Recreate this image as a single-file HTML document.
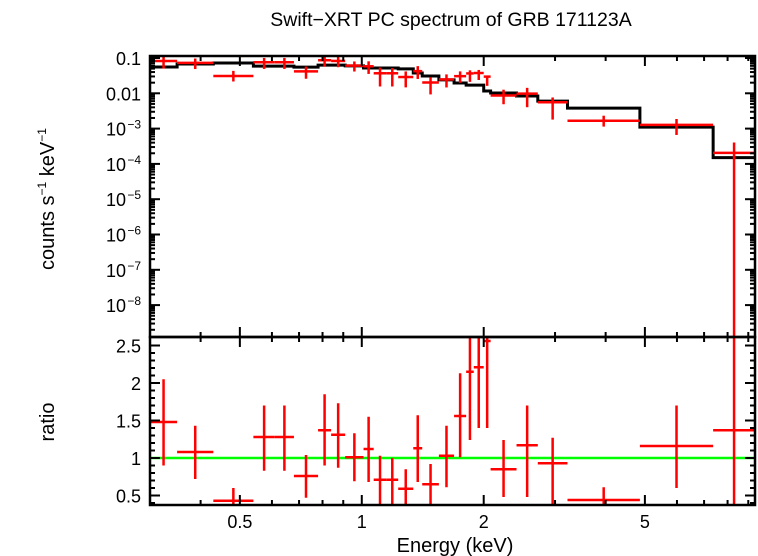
<!DOCTYPE html>
<html><head><meta charset="utf-8">
<style>
html,body{margin:0;padding:0;background:#fff;}
svg{display:block;font-family:"Liberation Sans",sans-serif;}
</style></head>
<body>
<svg id="chart" width="758" height="556" viewBox="0 0 758 556">
<text x="451" y="26" font-size="19.5" text-anchor="middle">Swift−XRT PC spectrum of GRB 171123A</text>
<text transform="translate(54,199) rotate(-90)" font-size="20" text-anchor="middle">counts s<tspan font-size="12" dy="-8">−1</tspan><tspan dy="8"> keV</tspan><tspan font-size="12" dy="-8">−1</tspan></text>
<text transform="translate(54,422) rotate(-90)" font-size="20" text-anchor="middle">ratio</text>
<text x="455" y="552" font-size="20" text-anchor="middle">Energy (keV)</text>
<g id="g"></g>
</svg>
<script>
const binEdges=[0.3,0.35,0.43,0.54,0.61,0.68,0.78,0.84,0.91,1.01,1.07,1.15,1.23,1.34,1.41,1.55,1.69,1.81,1.89,2.0,2.08,2.41,2.72,3.22,4.86,7.37,9.35];
const modelVals=[0.0556,0.0676,0.072,0.059,0.059,0.055,0.063,0.063,0.06,0.052,0.052,0.052,0.049,0.0375,0.031,0.024,0.0196,0.017,0.017,0.0116,0.0102,0.0084,0.006,0.0038,0.0011,0.00015];
const ratioVals=[1.48,1.08,0.43,1.28,1.28,0.76,1.37,1.31,1.01,1.12,0.71,0.71,0.59,1.13,0.65,1.03,1.56,2.15,2.21,2.56,0.85,1.17,0.93,0.44,1.16,1.37];
const ratioHi=[2.05,1.43,0.6,1.7,1.7,1.04,1.85,1.73,1.33,1.55,1.03,1.0,0.85,1.57,0.92,1.43,2.13,2.63,2.7,2.7,1.24,1.7,1.27,0.61,1.7,2.7];
const ratioLo=[0.9,0.72,0.3,0.83,0.83,0.47,0.9,0.87,0.69,0.68,0.3,0.3,0.3,0.68,0.3,0.61,1.01,1.24,1.4,1.4,0.48,0.48,0.3,0.3,0.6,0.0];
const xMajor=[0.5,1,2,5];
const xMinor=[0.3,0.4,0.6,0.7,0.8,0.9,3,4,6,7,8,9];
const topTickLabels=["0.1","0.01","10|−3","10|−4","10|−5","10|−6","10|−7","10|−8"];
const ratioTicks=[0.5,1,1.5,2,2.5];
const ratioTickLabels=["0.5","1","1.5","2","2.5"];

const L=150,R=755,T=56,M=337,B=505;
const lx0=Math.log10(0.3), lx1=Math.log10(9.35);
const X=e=>L+(Math.log10(e)-lx0)/(lx1-lx0)*(R-L);
const Yt=v=>{const y=58+(-1-Math.log10(Math.max(v,1e-12)))*35.3;return Math.min(M,Math.max(T,y));};
const Yr=r=>Math.min(B,Math.max(M,458-(r-1)*75));
const g=document.getElementById('g');
const NS='http://www.w3.org/2000/svg';
function el(tag,attrs,parent){const e=document.createElementNS(NS,tag);for(const k in attrs)e.setAttribute(k,attrs[k]);(parent||g).appendChild(e);return e;}
function line(x1,y1,x2,y2,st,w){return el('line',{x1,y1,x2,y2,stroke:st,'stroke-width':w});}

let d='';
for(let i=0;i<modelVals.length;i++){const y=Yt(modelVals[i]);d+=(i?'L':'M')+X(binEdges[i])+','+y+'L'+X(binEdges[i+1])+','+y;}
const mp=el('path',{d,fill:'none',stroke:'#000','stroke-width':3});



const gl=line(L,Yr(1),R,Yr(1),'#00ff00',2.5);



for(let i=0;i<ratioVals.length;i++){
  const xa=X(binEdges[i]),xb=X(binEdges[i+1]),xc=X(Math.sqrt(binEdges[i]*binEdges[i+1]));
  const m=modelVals[i];
  const gt=el('g',{});
  
  
  const v=m*ratioVals[i];
  el('line',{x1:xa,y1:Yt(v),x2:xb,y2:Yt(v),stroke:'#f00','stroke-width':2.5},gt);
  el('line',{x1:xc,y1:Yt(m*ratioHi[i]),x2:xc,y2:Yt(m*Math.max(ratioLo[i],1e-6)),stroke:'#f00','stroke-width':2.5},gt);
  const gr=el('g',{});
  
  
  el('line',{x1:xa,y1:Yr(ratioVals[i]),x2:xb,y2:Yr(ratioVals[i]),stroke:'#f00','stroke-width':2.5},gr);
  el('line',{x1:xc,y1:Yr(ratioHi[i]),x2:xc,y2:Yr(ratioLo[i]),stroke:'#f00','stroke-width':2.5},gr);
}

for(const e of xMajor){const x=X(e);
  [[T,T+10],[M-10,M+10],[B-10,B]].forEach(p=>line(x,p[0],x,p[1],'#000',2));
  const t=el('text',{x:x,y:528,'font-size':18,'text-anchor':'middle'});t.textContent=String(e);
  
  
}
for(const e of xMinor){const x=X(e);
  [[T,T+5],[M-5,M+5],[B-5,B]].forEach(p=>line(x,p[0],x,p[1],'#000',2));
}
for(let k=0;k<topTickLabels.length;k++){
  const dec=-1-k;const y=Yt(Math.pow(10,dec));
  line(L,y,L+10,y,'#000',2);line(R-10,y,R,y,'#000',2);
  const parts=topTickLabels[k].split('|');
  const t=el('text',{x:parts.length>1?L-24:L-9,y:y+7,'font-size':18,'text-anchor':'end'});
  t.textContent=parts[0];
  if(parts.length>1){const s=el('tspan',{x:L-9,dy:-7,'font-size':12,'text-anchor':'end'},t);s.textContent=parts[1];}
  
  
  for(let m=2;m<=9;m++){const yy=Yt(m*Math.pow(10,dec-1));if(yy>T&&yy<M){line(L,yy,L+5,yy,'#000',2);line(R-5,yy,R,yy,'#000',2);}}
}
for(let r=0.4;r<=2.6;r+=0.1){const y=Yr(r);if(y>M&&y<B){line(L,y,L+5,y,'#000',2);line(R-5,y,R,y,'#000',2);}}
for(let k=0;k<ratioTicks.length;k++){const y=Yr(ratioTicks[k]);
  line(L,y,L+10,y,'#000',2);line(R-10,y,R,y,'#000',2);
  const t=el('text',{x:L-9,y:y+7,'font-size':18,'text-anchor':'end'});t.textContent=ratioTickLabels[k];
  
  
}
const f1=el('rect',{x:L,y:T,width:R-L,height:M-T,fill:'none',stroke:'#000','stroke-width':2.5});


const f2=el('rect',{x:L,y:M,width:R-L,height:B-M,fill:'none',stroke:'#000','stroke-width':2.5});


</script>
</body></html>
